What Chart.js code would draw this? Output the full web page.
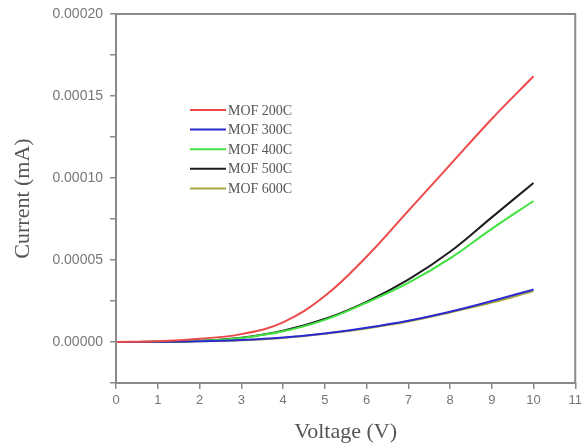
<!DOCTYPE html>
<html>
<head>
<meta charset="utf-8">
<script src="https://cdn.jsdelivr.net/npm/chart.js@4"></script>
<style>
  html, body { margin: 0; padding: 0; background: #fff; }
  #wrap { width: 586px; height: 447px; }
</style>
</head>
<body>
<div id="wrap"><canvas id="myChart"></canvas></div>
<script>
const voltage = [0, 1, 2, 3, 4, 5, 6, 7, 8, 9, 10];
const mof200 = [0, 0.0000005, 0.000002, 0.0000048, 0.000012, 0.000028, 0.000052, 0.000080, 0.000108, 0.000136, 0.000162];
const mof300 = [0, 0.0000001, 0.0000004, 0.0000012, 0.0000027, 0.0000052, 0.0000087, 0.000013, 0.0000185, 0.000025, 0.000032];
const mof400 = [0, 0.0000002, 0.0000008, 0.0000025, 0.0000065, 0.0000135, 0.000024, 0.000036, 0.000051, 0.000069, 0.000086];
const mof500 = [0, 0.0000002, 0.0000008, 0.0000026, 0.0000068, 0.000014, 0.0000245, 0.000038, 0.000055, 0.000076, 0.000097];
const mof600 = [0, 0.0000001, 0.0000004, 0.0000011, 0.0000025, 0.000005, 0.0000083, 0.0000125, 0.000018, 0.000024, 0.000031];
const seriesNames = ['MOF 200C', 'MOF 300C', 'MOF 400C', 'MOF 500C', 'MOF 600C'];
const seriesColors = ['#ec4a4a', '#2a2ad0', '#3fe23f', '#1e1e1e', '#a8a840'];

const allSeries = [mof200, mof300, mof400, mof500, mof600];

const ctx = document.getElementById('myChart');

// legend drawn inside the plot, like the original figure
const insideLegend = {
  id: 'insideLegend',
  afterDatasetsDraw(chart) {
    const c = chart.ctx;
    const a = chart.chartArea;
    c.save();
    c.font = '14px "Liberation Serif", serif';
    c.textBaseline = 'middle';
    chart.data.datasets.forEach((ds, i) => {
      const y = a.top + 96 + i * 19.6;
      const x = a.left + 74;
      c.strokeStyle = ds.borderColor;
      c.lineWidth = 2;
      c.beginPath();
      c.moveTo(x, y);
      c.lineTo(x + 36, y);
      c.stroke();
      c.fillStyle = '#555';
      c.fillText(ds.label, x + 38, y + 1);
    });
    c.restore();
  }
};

const frame = {
  id: 'frame',
  afterDraw(chart) {
    const c = chart.ctx;
    const a = chart.chartArea;
    c.save();
    c.strokeStyle = '#8a8a8a';
    c.lineWidth = 2;
    c.strokeRect(a.left, a.top, a.right - a.left, a.bottom - a.top);
    c.restore();
  }
};

new Chart(ctx, {
  type: 'line',
  data: {
    datasets: allSeries.map((s, i) => ({
      label: seriesNames[i],
      data: s.map((v, j) => ({ x: voltage[j], y: v })),
      borderColor: seriesColors[i],
      backgroundColor: seriesColors[i],
      borderWidth: 2,
      pointRadius: 0,
      tension: 0.4,
      fill: false
    }))
  },
  options: {
    responsive: true,
    maintainAspectRatio: false,
    animation: false,
    layout: { padding: { top: 11, right: 6, bottom: 0, left: 6 } },
    plugins: {
      legend: { display: false },
      tooltip: { enabled: false }
    },
    scales: {
      x: {
        type: 'linear',
        min: 0,
        max: 11,
        border: { display: false },
        grid: { drawOnChartArea: false, drawTicks: true, tickLength: 6, tickColor: '#8a8a8a', lineWidth: 1.5 },
        ticks: { stepSize: 1, color: '#777', font: { family: '"Liberation Sans", Arial, sans-serif', size: 13 }, padding: 4 },
        title: { display: true, text: 'Voltage (V)', color: '#555', font: { family: '"Liberation Serif", serif', size: 22 }, padding: { top: 6, bottom: 2 } }
      },
      y: {
        min: -0.000025,
        max: 0.0002,
        border: { display: false },
        grid: { drawOnChartArea: false, drawTicks: true, tickLength: 6, tickColor: '#8a8a8a', lineWidth: 1.5 },
        ticks: {
          stepSize: 0.000025,
          color: '#777',
          font: { family: '"Liberation Sans", Arial, sans-serif', size: 14, lineHeight: 1 },
          padding: 7,
          callback: (v) => {
            const k = Math.round(v / 0.000025);
            return (k % 2 === 0 && k >= 0) ? v.toFixed(5) : '';
          }
        },
        title: { display: true, text: 'Current (mA)', color: '#555', font: { family: '"Liberation Serif", serif', size: 22 }, padding: { bottom: 9 } }
      }
    }
  },
  plugins: [insideLegend, frame]
});
</script>
</body>
</html>
